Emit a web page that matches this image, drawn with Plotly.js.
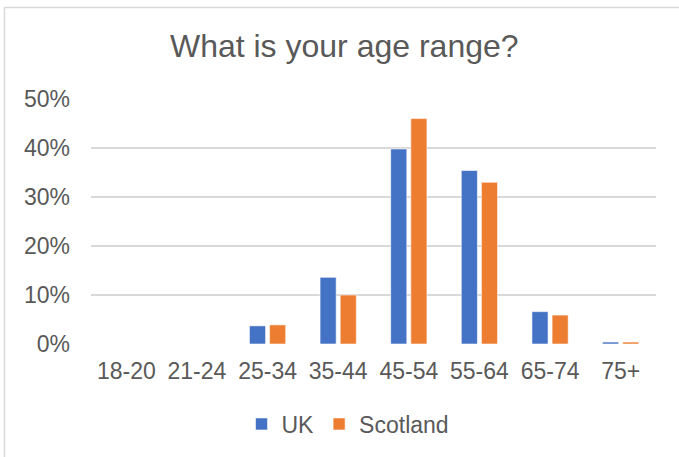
<!DOCTYPE html>
<html>
<head>
<meta charset="utf-8">
<script src="https://cdn.plot.ly/plotly-3.0.1.min.js"></script>
<style>
  html, body { margin: 0; padding: 0; background: #ffffff; }
  #chart { width: 679px; height: 457px; }
</style>
</head>
<body>
<div id="chart"></div>
<script>
// Age bands asked about in the survey
const ageBands = ['18-20', '21-24', '25-34', '35-44', '45-54', '55-64', '65-74', '75+'];

// Share of respondents in each band (%)
const ukShare = [0, 0, 3.7, 13.6, 39.8, 35.4, 6.6, 0.4];
const scotlandShare = [0, 0, 3.9, 10.0, 46.0, 33.0, 5.9, 0.4];

const yTicks = [0, 10, 20, 30, 40, 50];

const W = 679, H = 457;
const M = { l: 91, r: 23, t: 99, b: 113 };
const plotW = W - M.l - M.r, plotH = H - M.t - M.b;
// pixel -> paper helpers for the outer frame and legend placement
const px = x => (x - M.l) / plotW;
const py = y => (H - M.b - y) / plotH;

const textColor = '#595959';
const font = { family: 'Liberation Sans, Arial, sans-serif', color: textColor };

const traces = [
  {
    type: 'bar', name: 'UK', x: ageBands, y: ukShare,
    marker: { color: '#4472C4', line: { color: 'rgba(255,255,255,0.7)', width: 0.8 } },
    hoverinfo: 'x+y+name'
  },
  {
    type: 'bar', name: 'Scotland', x: ageBands, y: scotlandShare,
    marker: { color: '#ED7D31', line: { color: 'rgba(255,255,255,0.7)', width: 0.8 } },
    hoverinfo: 'x+y+name'
  }
];

const layout = {
  width: W, height: H,
  margin: M,
  paper_bgcolor: '#ffffff', plot_bgcolor: '#ffffff',
  font: Object.assign({ size: 23 }, font),
  title: {
    text: 'What is your age range?',
    font: Object.assign({}, font, { size: 32 }),
    x: 0.507, xref: 'container', xanchor: 'center',
    y: 1 - 46 / H, yref: 'container', yanchor: 'middle'
  },
  barmode: 'group',
  bargap: 0.43,
  bargroupgap: 0.2,
  xaxis: {
    type: 'category',
    showgrid: false, zeroline: false, showline: false,
    ticks: '', ticklabelstandoff: 11,
    tickfont: Object.assign({}, font, { size: 23 }),
    fixedrange: true
  },
  yaxis: {
    range: [0, 50],
    tickvals: yTicks,
    ticktext: yTicks.map(v => v + '%'),
    showgrid: true, gridcolor: '#d9d9d9', gridwidth: 1.5,
    zeroline: false, showline: false, ticks: '',
    ticklabelstandoff: 20,
    tickfont: Object.assign({}, font, { size: 23 }),
    fixedrange: true
  },
  showlegend: true,
  legend: {
    orientation: 'h',
    x: px(348), xanchor: 'center',
    y: py(424), yanchor: 'middle',
    itemwidth: 30,
    font: Object.assign({}, font, { size: 23 }),
    bgcolor: 'rgba(0,0,0,0)'
  },
  shapes: [
    {
      type: 'rect', xref: 'paper', yref: 'paper', layer: 'below',
      x0: px(4.5), x1: px(W + 5), y0: py(H + 5), y1: py(7.5),
      line: { color: '#d9d9d9', width: 1.5 }, fillcolor: 'rgba(0,0,0,0)'
    }
  ]
};

Plotly.newPlot('chart', traces, layout, { displayModeBar: false, staticPlot: true });
</script>
</body>
</html>
